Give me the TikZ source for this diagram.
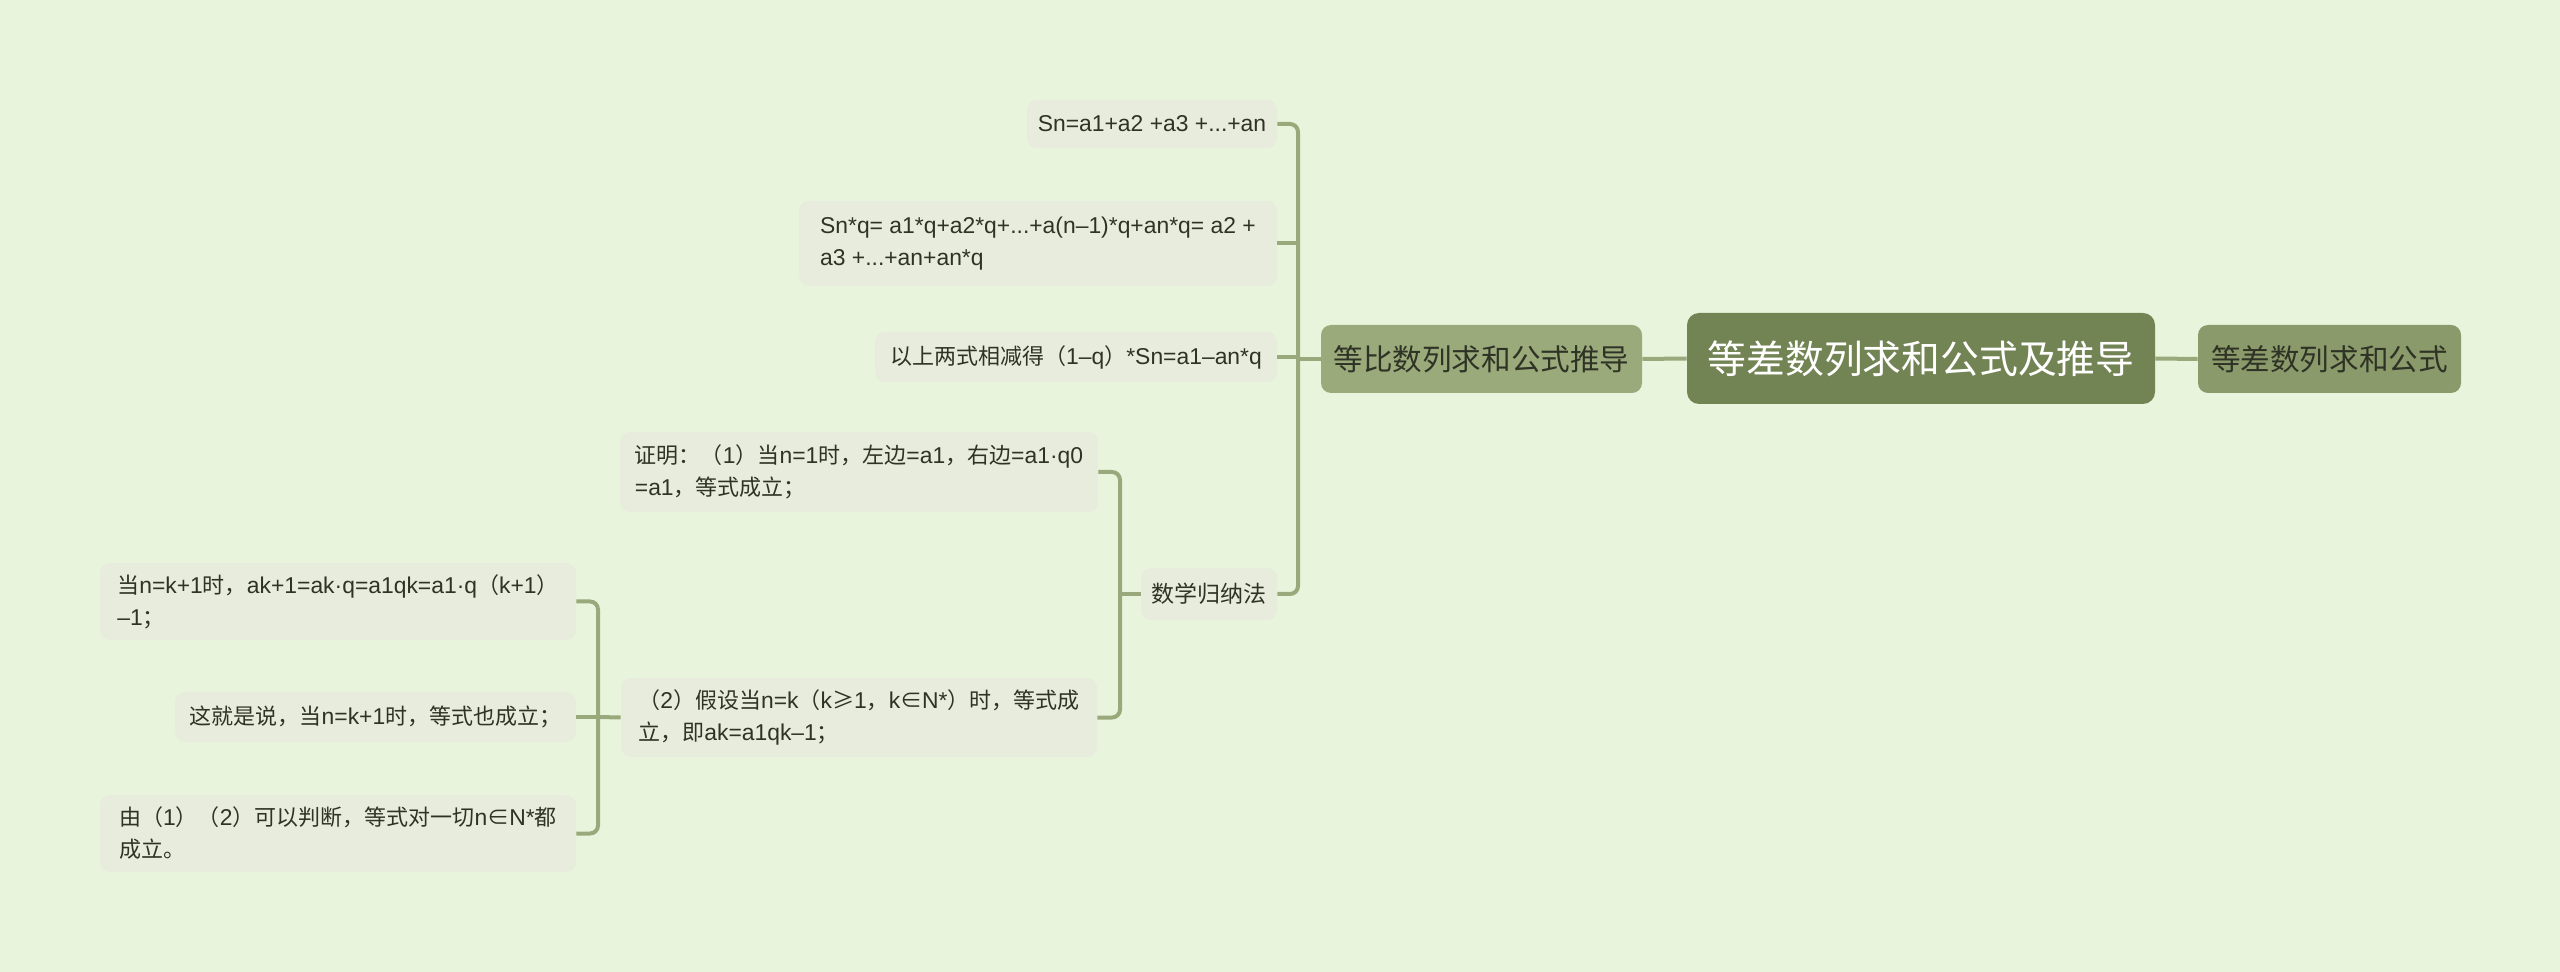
\documentclass[tikz,border=0pt]{standalone}
\usepackage{fontspec}
\setmainfont[Scale=1.04]{Liberation Sans}
\newfontfamily\cjkf{Noto Sans CJK SC}
\XeTeXinterchartokenstate=1
\newXeTeXintercharclass\cjkclass
\newcount\cc
\cc="3000
\loop \XeTeXcharclass\cc=\cjkclass \advance\cc by 1 \ifnum\cc<"3040 \repeat
\cc="4E00
\loop \XeTeXcharclass\cc=\cjkclass \advance\cc by 1 \ifnum\cc<"A000 \repeat
\cc="FF00
\loop \XeTeXcharclass\cc=\cjkclass \advance\cc by 1 \ifnum\cc<"FFF0 \repeat
\XeTeXcharclass"2265=\cjkclass
\XeTeXcharclass"2208=\cjkclass
\XeTeXinterchartoks 0 \cjkclass = {\cjkf}
\XeTeXinterchartoks 4095 \cjkclass = {\cjkf}
\XeTeXinterchartoks \cjkclass 0 = {\rmfamily}
\XeTeXinterchartoks \cjkclass 4095 = {\rmfamily}
\definecolor{bg}{HTML}{E8F5DC}
\definecolor{rootc}{HTML}{738454}
\definecolor{lc}{HTML}{9BAA7B}
\definecolor{rc}{HTML}{8B9A6A}
\definecolor{leafbg}{HTML}{E7ECDD}
\definecolor{linec}{HTML}{9AA97B}
\definecolor{txt}{HTML}{2F3325}
\begin{document}
\begin{tikzpicture}[x=0.5pt,y=-0.5pt,
  leaf/.style={fill=leafbg, rounded corners=5pt, text=txt, font=\fontsize{11}{16}\selectfont, align=left, inner sep=0pt},
  topic/.style={rounded corners=5pt, text=txt, font=\fontsize{14.8}{18}\selectfont, inner sep=0pt},
  rootbox/.style={fill=rootc, rounded corners=6pt, text=white, font=\fontsize{19.4}{23}\selectfont, inner sep=0pt},
  conn/.style={draw=linec, line width=2pt, rounded corners=4pt}]
\useasboundingbox (0,0) rectangle (2560,972);
\fill[bg] (0,0) rectangle (2560,972);
% main nodes
\node[rootbox, minimum width=234pt, minimum height=45.5pt] (root) at (1921,358.5) {等差数列求和公式及推导};
\node[topic, fill=rc, minimum width=131.5pt, minimum height=34pt] (R) at (2329.5,359) {等差数列求和公式};
\node[topic, fill=lc, minimum width=160.5pt, minimum height=34pt] (L) at (1481.5,359) {等比数列求和公式推导};
% children of L
\node[leaf, minimum width=125pt, minimum height=24pt] (A1) at (1152,124) {Sn=a1+a2 +a3 +...+an};
\node[leaf, minimum width=239pt, minimum height=42.5pt] (A2) at (1038,243.5) {Sn*q= a1*q+a2*q+...+a(n–1)*q+an*q= a2 +\\a3 +...+an+an*q};
\node[leaf, minimum width=201pt, minimum height=25pt] (A3) at (1076,357) {以上两式相减得（1–q）*Sn=a1–an*q};
\node[leaf, font=\fontsize{11.5}{16}\selectfont, minimum width=68pt, minimum height=26pt] (A4) at (1209,594) {数学归纳法};
% children of A4
\node[leaf, minimum width=239pt, minimum height=40pt] (B1) at (859,472) {证明：（1）当n=1时，左边=a1，右边=a1·q0\\=a1，等式成立；};
\node[leaf, minimum width=238pt, minimum height=39.5pt] (B2) at (859,717.5) {（2）假设当n=k（k≥1，k∈N*）时，等式成\\立，即ak=a1qk–1；};
% children of B2
\node[leaf, minimum width=238pt, minimum height=38.5pt] (C1) at (338,601.5) {当n=k+1时，ak+1=ak·q=a1qk=a1·q（k+1）\\–1；};
\node[leaf, minimum width=200.5pt, minimum height=25pt] (C2) at (375.5,717) {这就是说，当n=k+1时，等式也成立；};
\node[leaf, minimum width=238pt, minimum height=38.5pt] (C3) at (338,833.5) {由（1）（2）可以判断，等式对一切n∈N*都\\成立。};
% junctions
\coordinate (jL) at (1298,359);
\coordinate (jA) at (1120,594);
\coordinate (jB) at (598,717);
% connectors
\draw[conn] (root.east) -- (R.west);
\draw[conn] (root.west) -- (L.west -| L.east);
\draw[conn] (L.west) -- (jL);
\draw[conn] (A1.east) -| (jL) |- (A4.east);
\draw[conn] (A2.east) -- (A2.east -| jL);
\draw[conn] (A3.east) -- (A3.east -| jL);
\draw[conn] (A4.west) -- (jA);
\draw[conn] (B1.east) -| (jA) |- (B2.east);
\draw[conn] (B2.west) -- (jB);
\draw[conn] (C1.east) -| (jB) |- (C3.east);
\draw[conn] (C2.east) -- (jB);
\end{tikzpicture}
\end{document}
